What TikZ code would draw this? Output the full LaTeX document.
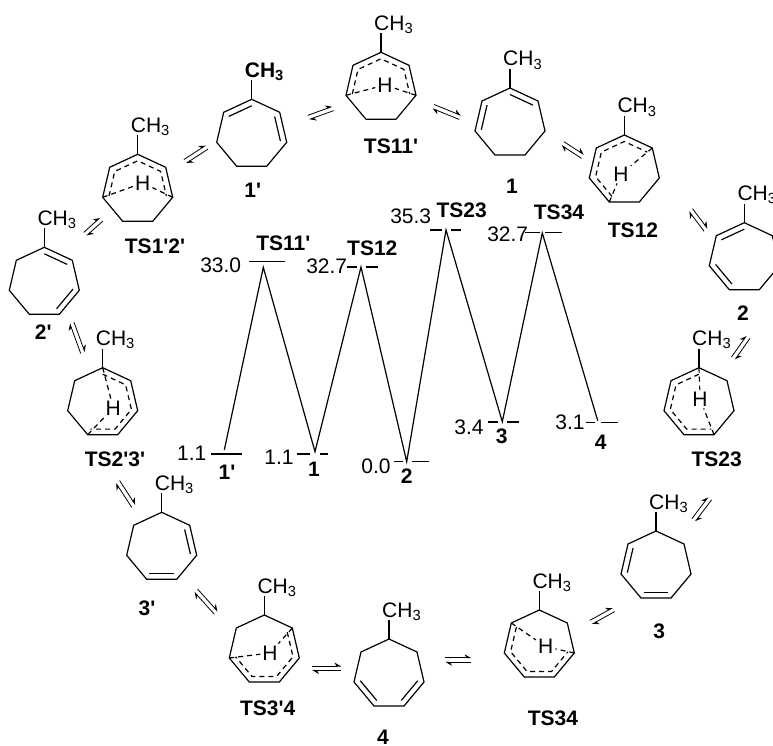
\documentclass[tikz,border=0pt]{standalone}
\usepackage{fontspec}
\usetikzlibrary{calc,arrows.meta}
\newfontfamily\labelFont{Liberation Sans}

\tikzset{
    plainText/.style={font=\labelFont\fontsize{21}{23}\selectfont, inner sep=0pt},
    boldText/.style={font=\labelFont\bfseries\fontsize{21}{23}\selectfont, inner sep=0pt},
    bond/.style={line width=1.2pt, line join=miter},
    dashBond/.style={line width=1.2pt, dash pattern=on 5pt off 4pt},
    pics/sevenRing/.style={code={
        \coordinate (-a) at (0,0);
        \coordinate (-b) at (-28,13);
        \coordinate (-c) at (-35,43);
        \coordinate (-d) at (-15,67);
        \coordinate (-e) at (15,67);
        \coordinate (-f) at (35,43);
        \coordinate (-g) at (28,13);
        \coordinate (-o) at (0,36);
        \coordinate (-t) at (0,-19);
        \draw[bond] (-a) -- (-b) -- (-c) -- (-d) -- (-e) -- (-f) -- (-g) -- cycle;
        \draw[bond] (-a) -- (-t);
        \node[plainText, anchor=base west, #1] (-me) at (-7,-22) {CH\textsubscript{3}};
    }},
    pics/sevenRing/.default={},
}

\begin{document}
\begin{tikzpicture}[x=1pt, y=-1pt]
    \def\innerPt#1#2{($(#1-#2)!.18!(#1-o)$)}

    \clip[use as bounding box] (0,0) rectangle (773,746);

    % ring molecules
    \pic (mOneP) at (251.7,99.3) {sevenRing={boldText}};
    \pic (tsOneOneP) at (381,52.3) {sevenRing};
    \pic (mOne) at (510,88) {sevenRing};
    \pic (tsOneTwo) at (624.3,135) {sevenRing};
    \pic (mTwo) at (744.3,222.7) {sevenRing};
    \pic (tsTwoThree) at (699,367.7) {sevenRing};
    \pic (mThree) at (656,531) {sevenRing};
    \pic (tsThreeFour) at (539.3,610) {sevenRing};
    \pic (mFour) at (389,639) {sevenRing};
    \pic (tsThreePFour) at (264.3,615) {sevenRing};
    \pic (mThreeP) at (161.7,512.3) {sevenRing};
    \pic (tsTwoPThreeP) at (102.7,367.7) {sevenRing};
    \pic (mTwoP) at (44.3,247.3) {sevenRing};
    \pic (tsOnePTwoP) at (137.7,154.3) {sevenRing};

    % double bonds
    \foreach \mol/\p/\q in {mOneP/a/b,mOneP/f/g,mOne/a/g,mOne/b/c,mTwo/a/b,mTwo/c/d,
        mThree/b/c,mThree/d/e,mFour/c/d,mFour/e/f,mThreeP/f/g,mThreeP/d/e,mTwoP/a/g,mTwoP/e/f}
        \draw[bond] \innerPt{\mol}{\p} -- \innerPt{\mol}{\q};

    % delocalised parts of the transition states
    \draw[dashBond] \innerPt{tsOneOneP}{c} -- \innerPt{tsOneOneP}{b} -- \innerPt{tsOneOneP}{a} -- \innerPt{tsOneOneP}{g} -- \innerPt{tsOneOneP}{f};
    \draw[dashBond] \innerPt{tsOneTwo}{d} -- \innerPt{tsOneTwo}{c} -- \innerPt{tsOneTwo}{b} -- \innerPt{tsOneTwo}{a} -- \innerPt{tsOneTwo}{g};
    \draw[dashBond] \innerPt{tsTwoThree}{a} -- \innerPt{tsTwoThree}{b} -- \innerPt{tsTwoThree}{c} -- \innerPt{tsTwoThree}{d} -- \innerPt{tsTwoThree}{e};
    \draw[dashBond] \innerPt{tsThreeFour}{b} -- \innerPt{tsThreeFour}{c} -- \innerPt{tsThreeFour}{d} -- \innerPt{tsThreeFour}{e} -- \innerPt{tsThreeFour}{f};
    \draw[dashBond] \innerPt{tsThreePFour}{g} -- \innerPt{tsThreePFour}{f} -- \innerPt{tsThreePFour}{e} -- \innerPt{tsThreePFour}{d} -- \innerPt{tsThreePFour}{c};
    \draw[dashBond] \innerPt{tsTwoPThreeP}{a} -- \innerPt{tsTwoPThreeP}{g} -- \innerPt{tsTwoPThreeP}{f} -- \innerPt{tsTwoPThreeP}{e} -- \innerPt{tsTwoPThreeP}{d};
    \draw[dashBond] \innerPt{tsOnePTwoP}{c} -- \innerPt{tsOnePTwoP}{b} -- \innerPt{tsOnePTwoP}{a} -- \innerPt{tsOnePTwoP}{g} -- \innerPt{tsOnePTwoP}{f};

    % bridging hydrogens
    \foreach \mol/\hx/\hy/\p/\q in {tsOneOneP/385/85/c/f, tsOneTwo/621/174/g/d,
        tsTwoThree/700/399/a/e, tsThreeFour/545.7/646.7/b/f, tsThreePFour/270/653/c/g,
        tsTwoPThreeP/113.3/408/a/d, tsOnePTwoP/142.7/183/c/f} {
        \node[plainText, inner sep=2pt] (\mol-H) at (\hx,\hy) {H};
        \draw[dashBond] (\mol-\p) -- (\mol-H);
        \draw[dashBond] (\mol-\q) -- (\mol-H);
    }

    % equilibrium arrows
    \foreach \x/\y/\ang/\len in {196/154.3/33/26, 93.3/226.7/42/22, 320.7/113/20/26, 446.7/112/-22/29,
        572.7/150/-33/24, 698.3/220/-53/25, 740.7/347.7/55/26, 701.7/509.3/53/27, 602.3/616/29/26,
        458.3/660/0/26, 326.7/668.3/0/29, 206/601.7/-48/30, 125.7/494/-57/29, 77.3/337.7/-70/32} {
        \begin{scope}[shift={(\x,\y)}, rotate=\ang]
            \draw[line width=0.8pt, -{Stealth[harpoon, length=6pt, width=7pt]}] (-\len/2,-2.2) -- (\len/2,-2.2);
            \draw[line width=0.8pt, -{Stealth[harpoon, length=6pt, width=7pt]}] (\len/2,2.2) -- (-\len/2,2.2);
        \end{scope}
    }

    % energy levels
    \foreach \xa/\xb/\xc/\xd/\yy/\wd in {211/224/224/241.7/453.7/1.7, 249.3/263/263/285/261.7/1,
        297.3/310/320/327.7/453.7/1.7, 346.7/356.7/366/377.7/266.7/1.7, 394/403/411.7/429/461.7/1,
        430/441.7/451/461/230/1.7, 488.3/498/507/519/421.7/1.7, 525/540/545/561.7/232.7/1,
        585.7/595/600.7/617.7/422.7/1} {
        \draw[line width=\wd pt] (\xa,\yy) -- (\xb,\yy);
        \draw[line width=\wd pt] (\xc,\yy) -- (\xd,\yy);
    }

    % energy profile
    \coordinate (minOneP) at (224.3,450);
    \coordinate (maxOneOneP) at (263.3,267.3);
    \coordinate (minOne) at (315,451.7);
    \coordinate (maxOneTwo) at (361,267);
    \coordinate (minTwo) at (406.7,461.7);
    \coordinate (maxTwoThree) at (446,230);
    \coordinate (minThree) at (502.3,421.7);
    \coordinate (maxThreeFour) at (542.3,233);
    \coordinate (minFour) at (597.7,420.7);

    \draw[bond] (minOneP) -- (maxOneOneP) -- (minOne) -- (maxOneTwo) -- (minTwo)
        -- (maxTwoThree) -- (minThree) -- (maxThreeFour) -- (minFour);

    % numbers of the levels
    \node[plainText] (valA) at (220.7,265.7) {33.0};
    \node[plainText] (valB) at (326.7,266) {32.7};
    \node[plainText] (valC) at (410.7,216.7) {35.3};
    \node[plainText] (valD) at (507.7,234) {32.7};
    \node[plainText] (valE) at (191.7,453) {1.1};
    \node[plainText] (valF) at (279,457.3) {1.1};
    \node[plainText] (valG) at (376,466.7) {0.0};
    \node[plainText] (valH) at (469,427.7) {3.4};
    \node[plainText] (valI) at (570,422.7) {3.1};

    % names at the levels
    \node[boldText] (lvlTsA) at (283.3,243.3) {TS11'};
    \node[boldText] (lvlTsB) at (372.3,248.3) {TS12};
    \node[boldText] (lvlTsC) at (461.7,210) {TS23};
    \node[boldText] (lvlTsD) at (559,212.7) {TS34};
    \node[boldText] (lvlA) at (227,472.7) {1'};
    \node[boldText] (lvlB) at (314,469) {1};
    \node[boldText] (lvlC) at (406.7,475.7) {2};
    \node[boldText] (lvlD) at (501.7,436.7) {3};
    \node[boldText] (lvlE) at (600.7,442.3) {4};

    % names of the molecules
    \node[boldText] (nameOneP) at (252.7,190.7) {1'};
    \node[boldText] (nameTsOneOneP) at (391,146) {TS11'};
    \node[boldText] (nameOne) at (512,186) {1};
    \node[boldText] (nameTsOneTwo) at (633,230.7) {TS12};
    \node[boldText] (nameTwo) at (743,313) {2};
    \node[boldText] (nameTsTwoThree) at (716.7,459) {TS23};
    \node[boldText] (nameThree) at (659.3,631.7) {3};
    \node[boldText] (nameTsThreeFour) at (553,718) {TS34};
    \node[boldText] (nameFour) at (383,737) {4};
    \node[boldText] (nameTsThreePFour) at (267.7,708.3) {TS3'4};
    \node[boldText] (nameThreeP) at (147,608) {3'};
    \node[boldText] (nameTsTwoPThreeP) at (115,459) {TS2'3'};
    \node[boldText] (nameTwoP) at (43.3,332) {2'};
    \node[boldText] (nameTsOnePTwoP) at (155,246.7) {TS1'2'};

\end{tikzpicture}
\end{document}
